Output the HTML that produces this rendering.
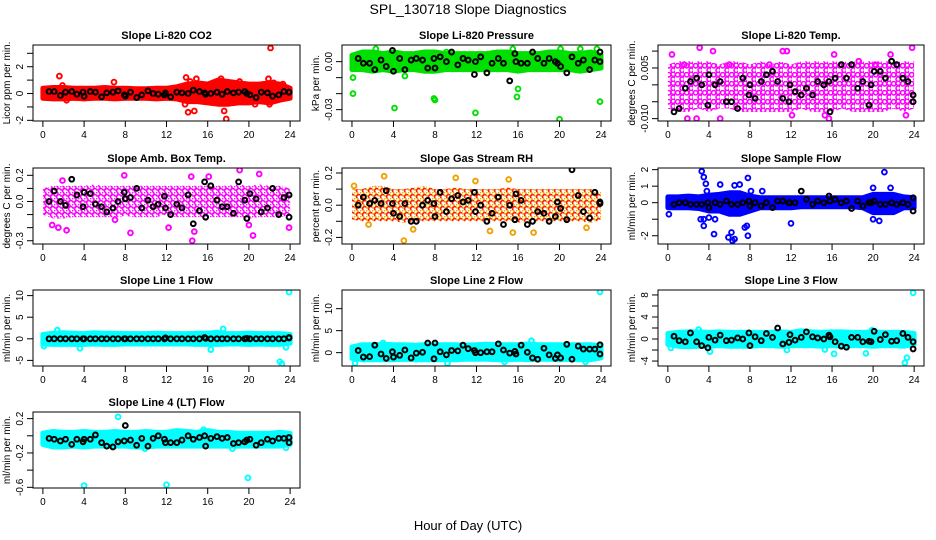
<!DOCTYPE html>
<html><head><meta charset="utf-8"><style>
body{margin:0;background:#fff}
svg{display:block;font-family:"Liberation Sans",sans-serif}
</style></head><body>
<svg id="c" width="936" height="540" xmlns="http://www.w3.org/2000/svg">
<rect width="936" height="540" fill="#fff"/>
<text x="468" y="14" text-anchor="middle" font-size="14">SPL_130718  Slope Diagnostics</text>
<text x="468" y="530" text-anchor="middle" font-size="13">Hour of Day (UTC)</text>
</svg>
<script>
const xTicks=[0,4,8,12,16,20,24];
const blkX=[0.6,1.1,1.7,2.2,2.8,3.3,3.9,4.0,4.6,5.1,5.7,6.2,6.8,7.3,7.9,8.0,8.5,9.1,9.6,10.2,10.7,11.2,11.8,11.9,12.4,13.0,13.5,14.1,14.6,15.2,15.7,15.8,16.3,16.9,17.4,17.9,18.5,19.0,19.6,19.8,20.1,20.7,21.2,21.8,22.3,22.9,23.4,23.9,23.9];
const bandHours=[0,1,2,3,4,5,6,7,8,9,10,11,12,13,14,15,16,17,18,19,20,21,22,23,24];

const p1Blk=[0.15,0.15,-0.15,0.1,0.15,-0.05,0.1,-0.2,0.15,0.1,-0.25,0.05,0.1,0.2,-0.1,-0.2,0.1,-0.3,-0.1,0.2,0,-0.05,-0.1,0.05,-0.25,0.1,0.05,0,0.25,0.15,0.05,-0.05,0,0.1,-0.05,0.15,0.05,0.1,0.15,0,-0.1,-0.3,0.1,0.05,-0.2,-0.1,0.15,0.1,0.1];
const p1Lo=[-0.35,-0.4,-0.4,-0.35,-0.4,-0.35,-0.35,-0.4,-0.35,-0.35,-0.35,-0.4,-0.35,-0.4,-0.6,-0.6,-0.7,-0.8,-0.8,-0.7,-0.7,-0.6,-0.7,-0.5,-0.35];
const p1Hi=[0.4,0.45,0.45,0.4,0.4,0.4,0.45,0.4,0.4,0.35,0.35,0.4,0.4,0.5,0.7,0.8,0.7,1.0,0.9,0.8,0.7,0.7,0.8,0.7,0.4];
const p1OutX=[1.6,1.9,2.3,6.9,13.8,13.9,14.1,14.3,14.7,14.9,17.3,17.6,17.8,19.1,20.6,21.9,22.0,22.1,22.4,23.3];
const p1OutY=[1.3,0.6,-0.5,0.85,-0.8,1.2,-1.4,0.9,-1.3,1.1,1.1,-1.3,-1.9,0.9,-0.8,1.1,-0.8,3.4,0.8,0.7];

const p2Blk=[0.002,-0.001,-0.001,-0.005,0.001,-0.003,0.007,-0.006,0.002,-0.005,0.001,0.002,0.001,-0.004,0.002,-0.004,0.003,0.000,0.006,-0.002,0.002,0.001,-0.008,0.000,0.003,-0.007,-0.001,0.002,-0.001,-0.012,0.005,0.000,-0.001,-0.001,0.006,0.002,-0.001,0.002,0.000,-0.001,-0.003,-0.007,0.003,-0.001,0.001,-0.005,0.001,0.006,0.000];
const p2Lo=[-0.005,-0.005,-0.006,-0.005,-0.006,-0.005,-0.005,-0.006,-0.006,-0.005,-0.005,-0.005,-0.005,-0.005,-0.005,-0.005,-0.006,-0.005,-0.005,-0.005,-0.005,-0.005,-0.006,-0.005,-0.004];
const p2Hi=[0.004,0.006,0.006,0.005,0.006,0.005,0.005,0.006,0.006,0.005,0.005,0.005,0.005,0.005,0.006,0.006,0.005,0.005,0.005,0.006,0.006,0.005,0.005,0.006,0.004];
const p2OutX=[0.1,0.1,2.3,4.1,5.1,7.9,8.0,9.1,11.9,15.5,15.9,16.0,20.0,20.1,22.0,23.6,23.9];
const p2OutY=[-0.01,-0.02,0.008,-0.029,-0.009,-0.023,-0.024,0.006,-0.032,0.008,-0.022,-0.017,-0.036,0.008,0.008,0.008,-0.025];

const p3Blk=[-0.008,-0.007,-0.001,0.001,0.002,0.000,-0.006,0.003,0.000,0.001,-0.005,-0.005,-0.007,0.002,-0.003,0.000,-0.004,0.001,0.003,0.004,0.001,-0.004,-0.005,0.000,-0.002,-0.003,-0.001,-0.003,0.001,0.000,0.001,-0.008,0.002,0.006,0.002,0.006,-0.001,0.001,-0.006,0.000,0.004,0.004,0.002,0.007,0.006,0.002,0.001,-0.003,-0.005];
const p3Lo=[-0.007,-0.008,-0.008,-0.007,-0.008,-0.007,-0.007,-0.008,-0.008,-0.008,-0.008,-0.008,-0.008,-0.007,-0.008,-0.008,-0.008,-0.007,-0.008,-0.008,-0.008,-0.008,-0.007,-0.008,-0.007];
const p3Hi=[0.006,0.007,0.007,0.007,0.007,0.006,0.007,0.007,0.006,0.007,0.006,0.007,0.006,0.007,0.007,0.007,0.007,0.007,0.007,0.007,0.007,0.007,0.007,0.007,0.007];
const p3OutX=[0.4,1.6,1.9,2.8,3.1,4.4,6.0,9.9,11.2,11.6,12.1,15.7,16.2,18.6,20.2,21.7,23.2,23.8,5.1,15.3];
const p3OutY=[0.009,0.006,-0.01,-0.01,0.011,0.01,0.006,0.006,0.01,0.01,-0.009,-0.01,0.009,0.007,0.006,0.009,-0.009,0.011,-0.01,-0.009];

const p4Blk=[0.0,0.08,0.0,-0.03,0.17,0.05,-0.04,0.07,0.06,-0.02,-0.04,-0.08,-0.05,0.00,0.07,0.02,0.03,0.10,-0.05,0.01,-0.04,-0.02,0.04,-0.05,-0.1,-0.02,-0.05,0.05,-0.17,-0.07,0.15,-0.12,0.12,0.01,-0.04,-0.04,-0.09,0.15,0.01,-0.13,0.06,0.02,-0.08,-0.05,0.10,-0.10,0.03,0.05,-0.12];
const p4Lo=[-0.1,-0.13,-0.13,-0.12,-0.12,-0.12,-0.12,-0.12,-0.11,-0.12,-0.12,-0.12,-0.1,-0.12,-0.12,-0.12,-0.12,-0.12,-0.12,-0.12,-0.13,-0.12,-0.12,-0.12,-0.1];
const p4Hi=[0.1,0.12,0.12,0.12,0.12,0.13,0.12,0.12,0.12,0.12,0.12,0.12,0.12,0.12,0.12,0.12,0.12,0.12,0.12,0.13,0.12,0.13,0.12,0.12,0.1];
const p4OutX=[0.9,1.5,1.9,2.3,7.0,7.9,8.5,12.2,14.4,14.5,14.7,16.1,19.1,20.0,20.4,21.0,23.9];
const p4OutY=[-0.18,-0.2,0.16,-0.22,-0.14,0.2,-0.24,-0.2,0.19,-0.3,-0.23,0.19,0.24,-0.18,-0.26,0.21,-0.2];

const p5Blk=[0.00,0.05,0.01,0.03,0.01,0.09,0.01,-0.05,-0.07,0.01,-0.1,-0.1,0.00,0.03,0.01,-0.07,0.08,-0.04,0.04,0.06,0.02,0.03,0.08,-0.04,0.00,-0.1,-0.05,0.05,-0.12,0.00,-0.09,0.07,0.03,-0.12,-0.1,-0.04,-0.05,-0.1,-0.07,0.02,-0.02,-0.09,0.22,0.06,-0.04,-0.08,0.08,0.01,0.02];
const p5Lo=[-0.09,-0.1,-0.1,-0.1,-0.1,-0.11,-0.1,-0.1,-0.1,-0.1,-0.1,-0.1,-0.1,-0.1,-0.1,-0.1,-0.11,-0.1,-0.1,-0.1,-0.1,-0.1,-0.1,-0.11,-0.09];
const p5Hi=[0.1,0.1,0.12,0.12,0.1,0.1,0.11,0.12,0.1,0.1,0.11,0.1,0.1,0.1,0.1,0.11,0.1,0.1,0.1,0.1,0.1,0.1,0.1,0.1,0.08];
const p5OutX=[0.2,3.1,5.0,5.9,10.0,11.9,13.3,15.1,15.5,17.5,22.6,1.6];
const p5OutY=[0.12,0.18,-0.22,-0.15,0.17,0.15,-0.16,0.16,-0.17,-0.17,-0.14,-0.12];

const p6Blk=[-0.1,0.0,0.0,-0.1,-0.1,-0.1,0.0,-0.3,0.0,-0.1,0.1,-0.1,-0.1,0.0,0.1,-0.2,0.0,-0.2,0.0,-0.3,0.1,0.1,0.0,0.0,0.0,0.7,0.2,-0.1,0.1,0.0,0.4,0.1,0.2,0.0,0.1,-0.35,0.1,-0.2,0.0,0.0,0.1,-0.1,-0.1,0.0,-0.1,0.0,-0.1,0.3,-0.5];
const p6Lo=[-0.3,-0.3,-0.3,-0.35,-0.5,-0.5,-0.7,-0.7,-0.5,-0.3,-0.3,-0.3,-0.3,-0.25,-0.25,-0.25,-0.25,-0.25,-0.25,-0.3,-0.6,-0.6,-0.6,-0.3,-0.3];
const p6Hi=[0.35,0.35,0.4,0.35,0.45,0.5,0.6,0.6,0.4,0.3,0.3,0.3,0.3,0.3,0.3,0.3,0.3,0.3,0.3,0.3,0.5,0.5,0.5,0.35,0.3];
const p6OutX=[0.1,3.3,3.5,3.7,3.8,3.2,3.5,3.5,4.0,4.5,4.6,5.1,5.9,6.2,6.3,6.5,6.5,7.0,7.5,7.7,7.8,7.8,8.1,9.2,12.0,20.0,20.0,20.6,21.1,21.7];
const p6OutY=[-0.7,1.9,1.55,1.15,0.7,-1.0,-1.0,-1.4,-0.9,-1.9,-1.0,1.1,-2.1,-1.8,-2.3,-2.2,1.05,1.1,-1.5,-1.4,-2.0,1.5,0.7,0.7,-1.25,0.9,-1.0,-1.1,1.85,0.9];

const p7Blk=[0,0,0,0,0,0,0,0,0,0,0,0,0,0,0,0,0,0,0,0,0,0,0,0.2,0,0,0,0,0,0,0.3,0.1,0,0,0,0,0,0,0,0.1,0,0,0,0,0,0,0,0.3,0.2];
const p7Lo=[-1.2,-1.3,-1.3,-1.3,-1.3,-1.2,-1.3,-1.3,-1.2,-1.2,-1.2,-1.2,-1.2,-1.2,-1.2,-1.3,-1.3,-1.3,-1.2,-1.2,-1.3,-1.2,-1.3,-1.3,-1.0];
const p7Hi=[1.0,1.3,1.4,1.3,1.2,1.4,1.3,1.3,1.2,1.2,1.2,1.3,1.2,1.2,1.2,1.3,1.3,1.5,1.2,1.2,1.3,1.2,1.2,1.2,1.0];
const p7OutX=[0.1,1.4,3.6,16.3,17.5,23.0,23.2,23.9,23.6];
const p7OutY=[-1.7,2.0,-2.2,-2.5,2.3,-5.3,-5.8,10.8,-2.0];

const p8Blk=[0.5,-1.0,-0.9,1.7,-0.3,-1.3,0.2,-1.0,-0.6,0.6,-1.2,-0.1,0.1,2.2,-1.4,2.2,0.2,-0.5,0.5,0.4,1.7,0.9,0.5,0.0,0.0,0.2,0.2,2.0,0.6,-0.1,0.3,-0.3,1.7,0.1,-1.2,-1.5,1.0,-0.5,-1.3,-0.5,-1.2,1.9,-1.5,1.5,0.8,0.8,0.8,1.8,-0.3];
const p8Lo=[-1.3,-1.6,-1.6,-1.6,-1.6,-1.5,-1.6,-1.6,-1.6,-1.6,-1.6,-1.5,-1.5,-1.5,-1.6,-1.6,-1.5,-1.6,-1.5,-1.5,-1.6,-1.5,-1.6,-1.6,-1.2];
const p8Hi=[1.3,1.8,1.8,1.9,1.8,1.8,1.7,1.8,1.8,1.8,1.8,1.7,1.8,1.9,1.8,1.8,1.8,2.0,1.8,1.8,1.8,1.8,1.8,1.8,1.5];
const p8OutX=[0.3,3.0,9.2,14.7,17.3,22.5,23.9];
const p8OutY=[-2.4,2.2,-2.4,-2.1,2.7,-2.1,13.8];

const p9Blk=[0.5,-0.3,-0.5,1.1,-0.5,-1.2,-1.6,0.3,-0.2,0.7,-0.3,-0.2,0.2,0.0,1.1,-1.2,0.4,-0.3,1.0,0.3,2.0,-0.9,-0.6,0.8,-0.2,0.3,1.3,0.4,0.2,0.0,0.7,0.4,-0.5,-1.3,-1.5,0.3,0.3,-0.5,-0.4,-0.5,1.4,-0.1,0.8,-0.4,-0.3,1.0,0.3,-0.5,-1.8];
const p9Lo=[-1.0,-1.3,-1.4,-1.3,-1.3,-1.2,-1.3,-1.3,-1.3,-1.2,-1.2,-1.3,-1.2,-1.2,-1.2,-1.3,-1.2,-1.3,-1.2,-1.2,-1.3,-1.2,-1.2,-1.3,-1.0];
const p9Hi=[1.0,1.2,1.3,1.3,1.2,1.3,1.2,1.2,1.2,1.2,1.2,1.3,1.2,1.5,1.3,1.2,1.3,1.3,1.2,1.2,1.3,1.2,1.2,1.2,1.0];
const p9OutX=[0.3,3.0,4.1,11.6,15.3,16.2,19.3,19.9,23.1,23.3,23.9];
const p9OutY=[-1.6,1.7,-2.3,-2.0,-1.9,-2.7,-2.6,1.6,-4.3,-3.4,8.4];

const p10Blk=[-0.03,-0.04,-0.06,-0.04,-0.1,-0.04,-0.07,-0.04,-0.04,0.01,-0.08,-0.12,-0.13,-0.07,-0.06,0.12,-0.05,-0.11,-0.03,-0.12,-0.03,0.00,-0.04,-0.08,-0.08,-0.08,-0.05,0.00,-0.04,-0.02,0.00,-0.12,-0.03,-0.01,-0.03,-0.02,-0.09,-0.08,-0.07,-0.05,-0.04,-0.11,-0.08,-0.04,-0.06,-0.03,-0.03,-0.02,-0.08];
const p10Lo=[-0.1,-0.13,-0.13,-0.12,-0.13,-0.12,-0.12,-0.12,-0.12,-0.13,-0.13,-0.12,-0.12,-0.12,-0.12,-0.12,-0.12,-0.12,-0.12,-0.12,-0.12,-0.12,-0.12,-0.12,-0.1];
const p10Hi=[0.03,0.05,0.04,0.04,0.05,0.04,0.04,0.05,0.04,0.04,0.05,0.04,0.04,0.06,0.05,0.04,0.06,0.04,0.04,0.03,0.03,0.03,0.03,0.04,0.03];
const p10OutX=[4.0,7.3,9.9,12.0,19.9,23.6,15.6,18.4];
const p10OutY=[-0.58,0.22,-0.15,-0.57,-0.49,-0.14,0.07,-0.15];

const panels=[
 {t:"Slope Li-820 CO2",yl:"Licor ppm per min.",x:33,w:267,y:45,yr:[-2.05,3.62],ticks:[-2,-1,0,1,2,3],labs:{"-2":"-2","0":"0","2":"2"},col:"#ff0000",blk:p1Blk,lo:p1Lo,hi:p1Hi,ox:p1OutX,oy:p1OutY},
 {t:"Slope Li-820 Pressure",yl:"kPa per min.",x:342,w:269,y:45,yr:[-0.0371,0.0104],ticks:[-0.03,-0.02,-0.01,0],labs:{"-0.03":"-0.03","0":"0.00"},col:"#00e000",blk:p2Blk,lo:p2Lo,hi:p2Hi,ox:p2OutX,oy:p2OutY},
 {t:"Slope Li-820 Temp.",yl:"degrees C per min.",x:658,w:266,y:45,yr:[-0.0107,0.0118],ticks:[-0.01,-0.005,0,0.005,0.01],labs:{"-0.01":"-0.010","0.005":"0.005"},col:"#ff00ff",blk:p3Blk,lo:p3Lo,hi:p3Hi,ox:p3OutX,oy:p3OutY,pat:"sparse"},
 {t:"Slope Amb. Box Temp.",yl:"degrees C per min.",x:33,w:267,y:168,yr:[-0.325,0.256],ticks:[-0.3,-0.2,-0.1,0,0.1,0.2],labs:{"-0.3":"-0.3","0":"0.0","0.2":"0.2"},col:"#ff00ff",blk:p4Blk,lo:p4Lo,hi:p4Hi,ox:p4OutX,oy:p4OutY,pat:"mid"},
 {t:"Slope Gas Stream RH",yl:"percent per min.",x:342,w:269,y:168,yr:[-0.241,0.231],ticks:[-0.2,-0.1,0,0.1,0.2],labs:{"-0.2":"-0.2","0":"0.0","0.2":"0.2"},col:"#f0a000",col2:"#ff2000",blk:p5Blk,lo:p5Lo,hi:p5Hi,ox:p5OutX,oy:p5OutY,pat:"mid"},
 {t:"Slope Sample Flow",yl:"ml/min per min.",x:658,w:266,y:168,yr:[-2.5,2.1],ticks:[-2,-1,0,1,2],labs:{"-2":"-2","0":"0","1":"1","2":"2"},col:"#0000ff",blk:p6Blk,lo:p6Lo,hi:p6Hi,ox:p6OutX,oy:p6OutY},
 {t:"Slope Line 1 Flow",yl:"ml/min per min.",x:33,w:267,y:290,yr:[-6.3,11.3],ticks:[-5,0,5,10],labs:{"-5":"-5","0":"0","5":"5","10":"10"},col:"#00ffff",blk:p7Blk,lo:p7Lo,hi:p7Hi,ox:p7OutX,oy:p7OutY},
 {t:"Slope Line 2 Flow",yl:"ml/min per min.",x:342,w:269,y:290,yr:[-3.03,14.24],ticks:[0,5,10],labs:{"0":"0","5":"5","10":"10"},col:"#00ffff",blk:p8Blk,lo:p8Lo,hi:p8Hi,ox:p8OutX,oy:p8OutY},
 {t:"Slope Line 3 Flow",yl:"ml/min per min.",x:658,w:266,y:290,yr:[-4.9,8.9],ticks:[-4,-2,0,2,4,6,8],labs:{"-4":"-4","0":"0","4":"4","8":"8"},col:"#00ffff",blk:p9Blk,lo:p9Lo,hi:p9Hi,ox:p9OutX,oy:p9OutY},
 {t:"Slope Line 4 (LT) Flow",yl:"ml/min per min.",x:33,w:267,y:412,yr:[-0.608,0.277],ticks:[-0.6,-0.4,-0.2,0,0.2],labs:{"-0.6":"-0.6","-0.2":"-0.2","0.2":"0.2"},col:"#00ffff",blk:p10Blk,lo:p10Lo,hi:p10Hi,ox:p10OutX,oy:p10OutY}
];
const NS="http://www.w3.org/2000/svg";
const svg=document.getElementById('c');
function mk(tag,attrs,parent){const e=document.createElementNS(NS,tag);for(const k in attrs)e.setAttribute(k,attrs[k]);(parent||svg).appendChild(e);return e;}
const defs=mk('defs',{});
const H=76;
panels.forEach((p,i)=>{
 let fill=p.col;
 if(p.pat){
  const sz=p.pat==='sparse'?9:6;
  const pt=mk('pattern',{id:'pat'+i,width:sz,height:sz,patternUnits:'userSpaceOnUse'},defs);
  mk('circle',{cx:sz*0.3,cy:sz*0.3,r:2.2,fill:'none',stroke:p.col,'stroke-width':1.6},pt);
  mk('circle',{cx:sz*0.8,cy:sz*0.8,r:2.2,fill:'none',stroke:p.col2||p.col,'stroke-width':1.6},pt);
  if(p.pat==='sparse'){mk('circle',{cx:sz*0.8,cy:sz*0.25,r:2.2,fill:'none',stroke:p.col,'stroke-width':1.6},pt);}
  fill='url(#pat'+i+')';
 }
 const g=mk('g',{});
 
 
 const sx=v=>p.x+(v+0.96)/25.92*p.w;
 const sy=v=>p.y+H-(v-p.yr[0])/(p.yr[1]-p.yr[0])*H;
 const clip=mk('clipPath',{id:'cp'+i},g);
 mk('rect',{x:p.x,y:p.y,width:p.w,height:H},clip);
 const plot=mk('g',{'clip-path':'url(#cp'+i+')'},g);
 let d='';
 bandHours.forEach((h,k)=>{d+=(k?'L':'M')+sx(h).toFixed(1)+','+sy(p.hi[k]).toFixed(1);});
 for(let k=bandHours.length-1;k>=0;k--)d+='L'+sx(bandHours[k]).toFixed(1)+','+sy(p.lo[k]).toFixed(1);
 const band=mk('path',{d:d+'Z',fill:fill,stroke:p.pat?'none':p.col,'stroke-width':5,'stroke-linejoin':'round'},plot);
 
 
 p.ox.forEach((xv,k)=>{
  const c=mk('circle',{cx:sx(xv),cy:sy(p.oy[k]),r:2.4,fill:'none',stroke:p.col,'stroke-width':1.9},plot);
  
  
 });
 blkX.forEach((xv,k)=>{
  const c=mk('circle',{cx:sx(xv),cy:sy(p.blk[k]),r:2.4,fill:'none',stroke:'#000','stroke-width':2},plot);
  
  
 });
 const box=mk('rect',{x:p.x,y:p.y,width:p.w,height:H,fill:'none',stroke:'#000','stroke-width':1},g);
 
 
 const tt=mk('text',{x:p.x+p.w/2,y:p.y-6,'text-anchor':'middle','font-size':11,'font-weight':'bold'},g);
 tt.textContent=p.t;
 
 
 const xa=mk('g',{},g);
 
 
 xTicks.forEach(v=>{
  mk('line',{x1:sx(v),x2:sx(v),y1:p.y+H,y2:p.y+H+6,stroke:'#000'},xa);
  const t=mk('text',{x:sx(v),y:p.y+H+17,'text-anchor':'middle','font-size':10},xa);
  t.textContent=v;
 });
 const ya=mk('g',{},g);
 
 
 p.ticks.forEach(v=>{
  const yy=sy(v);
  mk('line',{x1:p.x-6,x2:p.x,y1:yy,y2:yy,stroke:'#000'},ya);
  const key=String(v);
  if(p.labs[key]!==undefined){
   const t=mk('text',{x:p.x-10,y:yy,'text-anchor':'middle','font-size':10,transform:'rotate(-90 '+(p.x-10)+' '+yy+')'},ya);
   t.textContent=p.labs[key];
  }
 });
 const cy=p.y+H/2;
 const yl=mk('text',{x:p.x-23,y:cy,'text-anchor':'middle','font-size':10,transform:'rotate(-90 '+(p.x-23)+' '+cy+')'},g);
 yl.textContent=p.yl;
 
 
});
</script>
</body></html>
